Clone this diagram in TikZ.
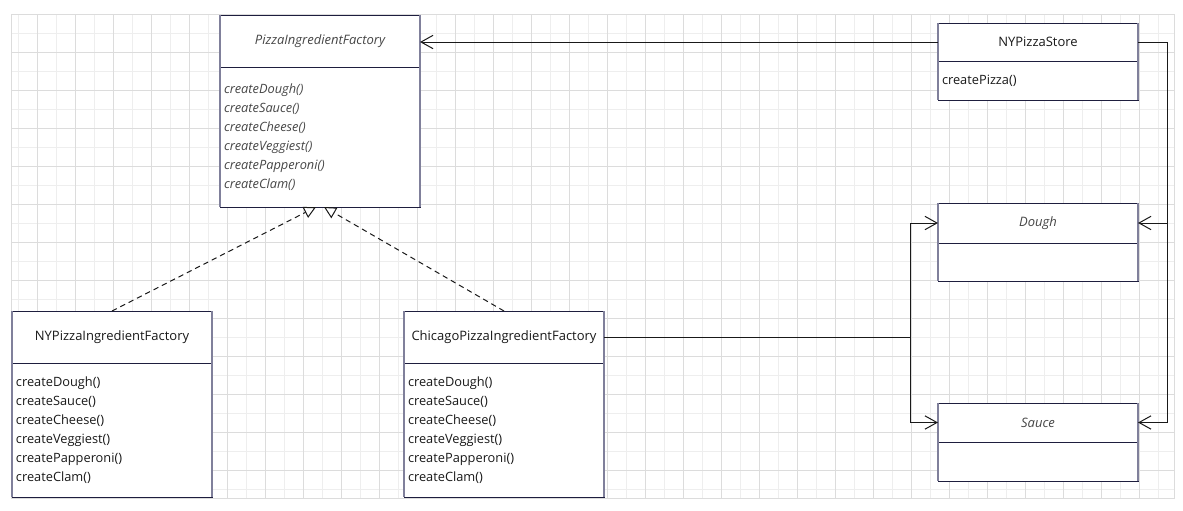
\documentclass[tikz,border=0pt]{standalone}
\usepackage{fontspec}
\setmainfont{Open Sans}
\usetikzlibrary{positioning,arrows.meta}

\begin{document}
\begin{tikzpicture}[x=0.75pt,y=-0.75pt,
  ctitle/.style={draw=cnavy,fill=white,line width=0.75pt,outer sep=0pt,
    minimum width=150pt,text=ctext,font=\fontsize{9.75}{12}\selectfont},
  cbody/.style={draw=cnavy,fill=white,line width=0.75pt,outer sep=0pt,
    minimum width=150pt,text width=144pt,inner xsep=3pt,align=left,
    text=ctext,font=\fontsize{9.6}{14.25}\selectfont},
  abstr/.style={text=citalic,font=\fontsize{9.75}{12}\selectfont\itshape},
  assoc/.style={draw=cline,line width=0.75pt,-{Straight Barb[length=9pt,width=10pt]}},
  realize/.style={draw=cline,line width=0.75pt,dash pattern=on 4pt off 3pt,
    -{Triangle[open,length=9pt,width=9pt]}}]
  \definecolor{cnavy}{RGB}{30,30,62}
  \definecolor{cside}{RGB}{128,128,155}
  \definecolor{ctext}{RGB}{25,25,25}
  \definecolor{citalic}{RGB}{70,70,70}
  \definecolor{cline}{RGB}{25,25,25}
  \definecolor{gridmin}{RGB}{238,238,238}
  \definecolor{gridmaj}{RGB}{220,220,220}
  \useasboundingbox (0,0) rectangle (1183,511);
  % background grid
  \foreach \gx in {18.3,56.3,...,1173} \draw[gridmin,line width=0.75pt] (\gx,14) -- (\gx,498);
  \foreach \gy in {33.3,71.3,...,498} \draw[gridmin,line width=0.75pt] (11,\gy) -- (1174,\gy);
  \foreach \gx in {37.3,75.3,...,1173} \draw[gridmaj,line width=0.75pt] (\gx,14) -- (\gx,498);
  \foreach \gy in {52.3,90.3,...,498} \draw[gridmaj,line width=0.75pt] (11,\gy) -- (1174,\gy);
  \draw[gridmaj,line width=0.75pt] (11,14) rectangle (1174,498);
  % classes
  \node[ctitle,abstr,anchor=north west,minimum height=39pt] (paf) at (220,15) {PizzaIngredientFactory};
  \node[cbody,below=0pt of paf,minimum height=105pt,text=citalic,font=\fontsize{9.6}{14.25}\selectfont\itshape] (pafb)
    {createDough()\\createSauce()\\createCheese()\\createVeggiest()\\createPapperoni()\\createClam()};
  \node[ctitle,anchor=north west,minimum height=28.5pt] (store) at (938,23) {NYPizzaStore};
  \node[cbody,below=0pt of store,minimum height=29.25pt] (storeb) {createPizza()};
  \node[ctitle,abstr,anchor=north west,minimum height=30pt] (dough) at (938,203) {Dough};
  \node[cbody,below=0pt of dough,minimum height=28.5pt] (doughb) {};
  \node[ctitle,abstr,anchor=north west,minimum height=29.25pt] (sauce) at (938,403) {Sauce};
  \node[cbody,below=0pt of sauce,minimum height=29.25pt] (sauceb) {};
  \node[ctitle,anchor=north west,minimum height=39pt] (nyf) at (12,311) {NYPizzaIngredientFactory};
  \node[cbody,below=0pt of nyf,minimum height=100.5pt] (nyfb)
    {createDough()\\createSauce()\\createCheese()\\createVeggiest()\\createPapperoni()\\createClam()};
  \node[ctitle,anchor=north west,minimum height=39pt] (chi) at (404,311) {ChicagoPizzaIngredientFactory};
  \node[cbody,below=0pt of chi,minimum height=100.5pt] (chib)
    {createDough()\\createSauce()\\createCheese()\\createVeggiest()\\createPapperoni()\\createClam()};
  \foreach \t/\b in {paf/pafb,store/storeb,dough/doughb,sauce/sauceb,nyf/nyfb,chi/chib}
    \draw[cside,line width=1.5pt] (\t.north west) -- (\b.south west) (\t.north east) -- (\b.south east);
  % connectors
  \draw[assoc] (store.west) -- (store.west -| paf.east);
  \draw[assoc] (store.east) -- ++(29,0) coordinate (rbus) |- (dough.east);
  \draw[assoc] (rbus) |- (sauce.east);
  \draw[assoc] (chi.east) -- ++(306,0) coordinate (lbus) |- (dough.west);
  \draw[assoc] (lbus) |- (sauce.west);
  \coordinate (pafl) at ([xshift=-3pt]pafb.south);
  \coordinate (pafr) at ([xshift=3pt]pafb.south);
  \draw[realize] (nyf.north) -- (pafl);
  \draw[realize] (chi.north) -- (pafr);
\end{tikzpicture}
\end{document}
